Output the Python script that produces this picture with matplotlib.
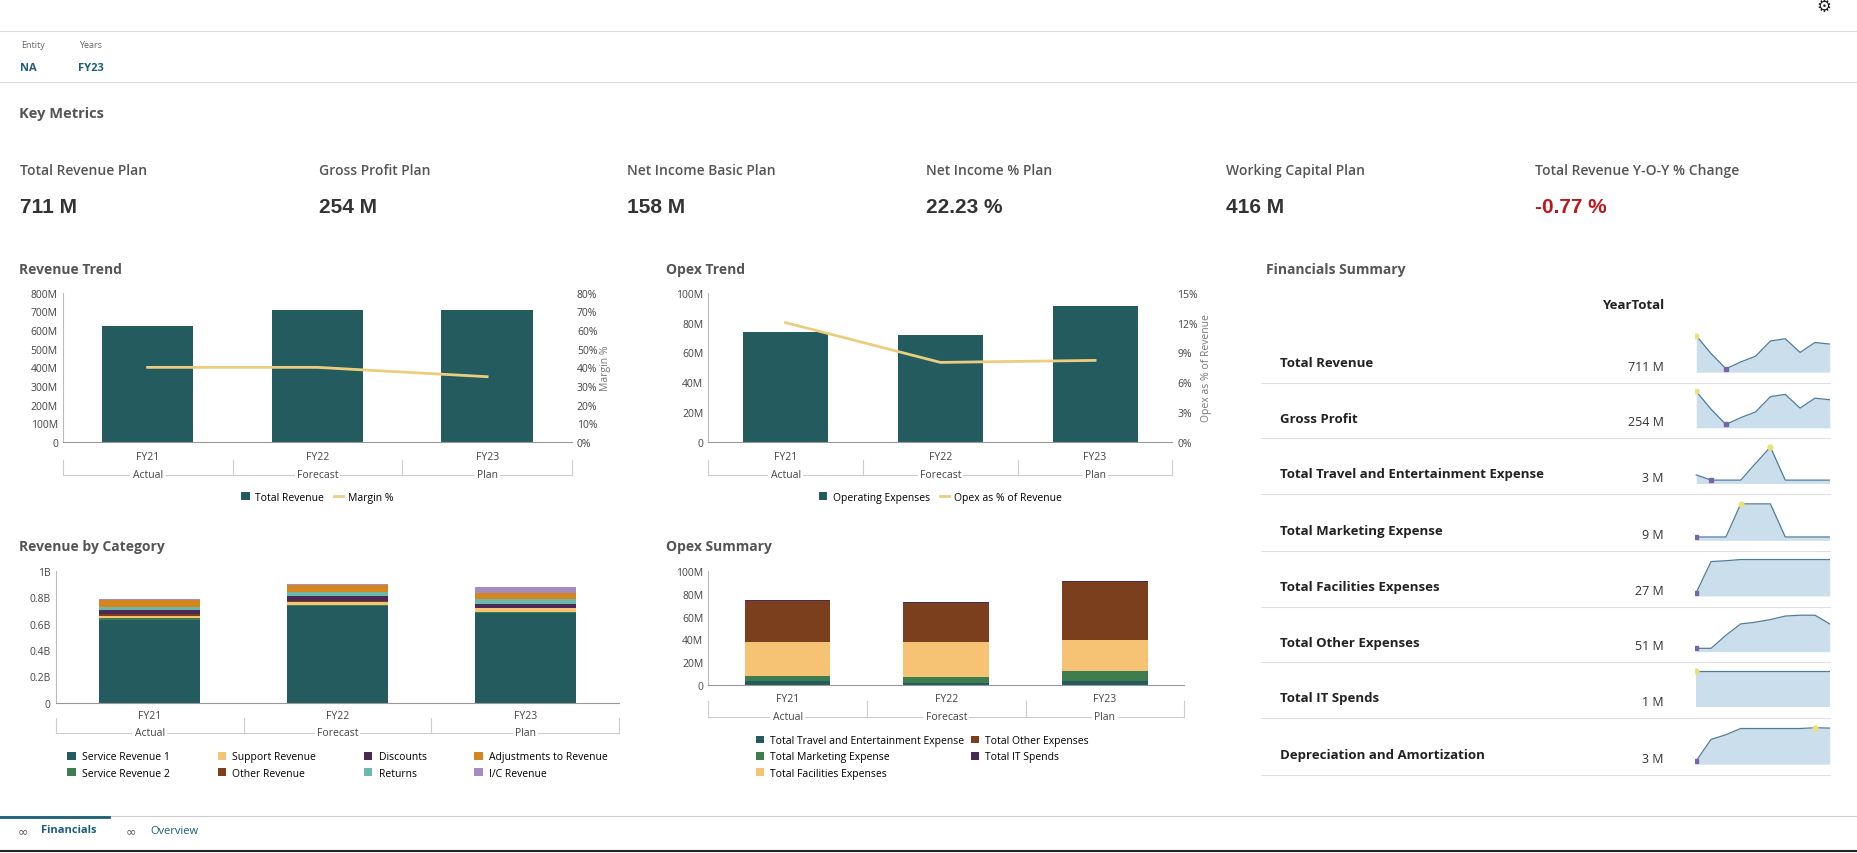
import matplotlib
matplotlib.use('Agg')
import matplotlib.pyplot as plt
import numpy as np
from matplotlib.ticker import FuncFormatter

plt.rcParams['font.family'] = ['Open Sans', 'DejaVu Sans']

W, H = 1568.0, 721.0

# ---- data ----
years = ['FY21', 'FY22', 'FY23']
scenarios = ['Actual', 'Forecast', 'Plan']

kpi_names = ['Total Revenue Plan', 'Gross Profit Plan', 'Net Income Basic Plan',
             'Net Income % Plan', 'Working Capital Plan', 'Total Revenue Y-O-Y % Change']
kpi_values = ['711 M', '254 M', '158 M', '22.23 %', '416 M', '-0.77 %']

total_revenue = [620, 710, 705]      # M
margin_pct = [40, 40, 35]            # %
opex = [74, 72, 91]                  # M
opex_pct = [12, 8, 8.2]              # %

rev_cats = ['Service Revenue 1', 'Service Revenue 2', 'Support Revenue', 'Other Revenue',
            'Discounts', 'Returns', 'Adjustments to Revenue', 'I/C Revenue']
rev_vals = {
    'Service Revenue 1': [0.63, 0.735, 0.68],
    'Service Revenue 2': [0.012, 0.008, 0.012],
    'Support Revenue': [0.02, 0.02, 0.03],
    'Other Revenue': [0.012, 0.012, 0.0],
    'Discounts': [0.028, 0.035, 0.03],
    'Returns': [0.025, 0.03, 0.035],
    'Adjustments to Revenue': [0.055, 0.055, 0.05],
    'I/C Revenue': [0.008, 0.008, 0.04],
}
rev_colors = ['#235b5f', '#3e7d4e', '#f6c374', '#7b3f1e', '#4a2a55', '#6db8ac', '#d4851d', '#a48bc0']
rev_legend_order = ['Service Revenue 1', 'Service Revenue 2', 'Support Revenue', 'Other Revenue',
                    'Discounts', 'Returns', 'Adjustments to Revenue', 'I/C Revenue']

opex_cats = ['Total Travel and Entertainment Expense', 'Total Marketing Expense',
             'Total Facilities Expenses', 'Total Other Expenses', 'Total IT Spends']
opex_vals = {
    'Total Travel and Entertainment Expense': [3, 2, 3],
    'Total Marketing Expense': [5, 5, 9],
    'Total Facilities Expenses': [30, 31, 27],
    'Total Other Expenses': [36, 34, 51],
    'Total IT Spends': [0.4, 0.4, 1.2],
}
opex_colors = ['#235b5f', '#3e7d4e', '#f6c374', '#7b3f1e', '#4a2a55']

fin_rows = ['Total Revenue', 'Gross Profit', 'Total Travel and Entertainment Expense',
            'Total Marketing Expense', 'Total Facilities Expenses', 'Total Other Expenses',
            'Total IT Spends', 'Depreciation and Amortization']
fin_totals = ['711 M', '254 M', '3 M', '9 M', '27 M', '51 M', '1 M', '3 M']
spark = [
    [92, 45, 5, 23, 38, 78, 84, 48, 74, 70],
    [92, 45, 5, 23, 38, 78, 84, 48, 74, 70],
    [27, 13, 13, 13, 58, 102, 13, 13, 13, 13],
    [0, 0, 0, 87, 87, 87, 0, 0, 0, 0],
    [0, 77, 79, 82, 82, 82, 82, 82, 82, 82],
    [10, 10, 25, 38, 40, 43, 47, 48, 48, 38],
    [1, 1, 1, 1, 1, 1, 1, 1, 1, 1],
    [5, 60, 72, 88, 88, 88, 88, 88, 90, 89],
]
spark_max_mark = [True, True, True, True, False, False, True, True]
spark_min_mark = [True, True, True, True, True, True, False, True]

TEAL = '#235b5f'
LINE = '#eccd7e'
GRAY = '#555555'
TICK = '#444444'

fig = plt.figure(figsize=(18.57, 8.54), dpi=100)


def box(l, t, r, b):
    return [l / W, 1 - b / H, (r - l) / W, (b - t) / H]


def txt(x, y, s, **kw):
    fig.text(x / W, 1 - y / H, s, va='center', **kw)


def hline(x0, x1, y, color='#dddddd', lw=0.8):
    fig.add_artist(plt.Line2D([x0 / W, x1 / W], [1 - y / H, 1 - y / H], color=color, lw=lw))


def style_ax(ax):
    for s in ['top', 'right']:
        ax.spines[s].set_visible(False)
    ax.spines['left'].set_color('#bbbbbb')
    ax.spines['bottom'].set_color('#999999')
    ax.tick_params(length=0, labelsize=7.5, colors=TICK)
    ax.set_xlim(-0.5, 2.5)


def group_axis(ax, y1=-0.1, y2=-0.22):
    ax.set_xticks([])
    tr = ax.transAxes
    for i, (yr, sc) in enumerate(zip(years, scenarios)):
        xc = (i + 0.5) / 3
        ax.text(xc, y1, yr, transform=tr, ha='center', va='center', fontsize=7.5, color=TICK)
        ax.text(xc, y2, sc, transform=tr, ha='center', va='center', fontsize=7.5, color=TICK,
                bbox=dict(facecolor='white', edgecolor='none', pad=1.5))
    for xb in [0, 1 / 3, 2 / 3, 1]:
        ax.plot([xb, xb], [y1 - 0.02, y2], transform=tr, color='#cccccc', lw=0.8, clip_on=False)
    ax.plot([0, 1], [y2, y2], transform=tr, color='#cccccc', lw=0.8, clip_on=False, zorder=0)


# ---- header ----
hline(0, 1568, 27)
hline(0, 1568, 70)
txt(18, 38, 'Entity', fontsize=6.5, color='#666666')
txt(67, 38, 'Years', fontsize=6.5, color='#666666')
txt(17, 58, 'NA', fontsize=8, color='#1e5e79', weight='bold')
txt(66, 58, 'FY23', fontsize=8, color='#1e5e79', weight='bold')
txt(1534, 6, '\u2699', fontsize=12, color='#222222', family='DejaVu Sans')
txt(16, 96, 'Key Metrics', fontsize=10.5, color=GRAY, weight='bold')

kx = [17, 269, 529, 782, 1035, 1296]
for x, n, v in zip(kx, kpi_names, kpi_values):
    txt(x, 144, n, fontsize=10, color='#555555', weight='semibold')
    txt(x, 175, v, fontsize=15, weight='bold', color='#c0171e' if v.startswith('-') else '#333333',
        family='Liberation Sans')

# ---- Revenue Trend ----
txt(16, 228, 'Revenue Trend', fontsize=10, color=GRAY, weight='bold')
ax = fig.add_axes(box(53, 248, 483, 374))
style_ax(ax)
x = np.arange(3)
ax.bar(x, total_revenue, width=0.54, color=TEAL, label='Total Revenue')
ax.set_ylim(0, 800)
ax.set_yticks(range(0, 801, 100))
ax.yaxis.set_major_formatter(FuncFormatter(lambda v, p: '0' if v == 0 else f'{int(v)}M'))
ax2 = ax.twinx()
ax2.plot(x, margin_pct, color=LINE, lw=2, label='Margin %')
ax2.set_ylim(0, 80)
ax2.set_yticks(range(0, 81, 10))
ax2.yaxis.set_major_formatter(FuncFormatter(lambda v, p: f'{int(v)}%'))
for s in ['top', 'right', 'left', 'bottom']:
    ax2.spines[s].set_visible(False)
ax2.tick_params(length=0, labelsize=7.5, colors=TICK)
ax2.set_ylabel('Margin %', fontsize=7.5, color='#777777', labelpad=2)
group_axis(ax)
h1, l1 = ax.get_legend_handles_labels()
h2, l2 = ax2.get_legend_handles_labels()
ax.legend(h1 + h2, l1 + l2, loc='upper center', bbox_to_anchor=(0.5, -0.27), ncol=2, frameon=False,
          fontsize=7.5, handlelength=0.8, handleheight=0.8, columnspacing=1.0, handletextpad=0.5)

# ---- Opex Trend ----
txt(562, 228, 'Opex Trend', fontsize=10, color=GRAY, weight='bold')
ax = fig.add_axes(box(598, 248, 990, 374))
style_ax(ax)
ax.bar(x, opex, width=0.55, color=TEAL, label='Operating Expenses')
ax.set_ylim(0, 100)
ax.set_yticks(range(0, 101, 20))
ax.yaxis.set_major_formatter(FuncFormatter(lambda v, p: '0' if v == 0 else f'{int(v)}M'))
ax2 = ax.twinx()
ax2.plot(x, opex_pct, color=LINE, lw=2, label='Opex as % of Revenue')
ax2.set_ylim(0, 15)
ax2.set_yticks(range(0, 16, 3))
ax2.yaxis.set_major_formatter(FuncFormatter(lambda v, p: f'{int(v)}%'))
for s in ['top', 'right', 'left', 'bottom']:
    ax2.spines[s].set_visible(False)
ax2.tick_params(length=0, labelsize=7.5, colors=TICK)
ax2.set_ylabel('Opex as % of Revenue', fontsize=7.5, color='#777777', labelpad=2)
group_axis(ax)
h1, l1 = ax.get_legend_handles_labels()
h2, l2 = ax2.get_legend_handles_labels()
ax.legend(h1 + h2, l1 + l2, loc='upper center', bbox_to_anchor=(0.5, -0.27), ncol=2, frameon=False,
          fontsize=7.5, handlelength=0.8, handleheight=0.8, columnspacing=1.0, handletextpad=0.5)

# ---- Revenue by Category ----
txt(16, 462, 'Revenue by Category', fontsize=10, color=GRAY, weight='bold')
ax = fig.add_axes(box(47, 483, 523, 594))
style_ax(ax)
bottom = np.zeros(3)
handles = {}
for c, col in zip(rev_cats, rev_colors):
    v = np.array(rev_vals[c])
    handles[c] = ax.bar(x, v, bottom=bottom, width=0.54, color=col, label=c)
    bottom += v
ax.set_ylim(0, 1.0)
ax.set_yticks([0, 0.2, 0.4, 0.6, 0.8, 1.0])
ax.yaxis.set_major_formatter(FuncFormatter(lambda v, p: '0' if v == 0 else ('1B' if v == 1 else f'{v:.1f}B')))
group_axis(ax, -0.1, -0.23)
ax.legend([handles[c] for c in rev_legend_order], rev_legend_order, loc='upper center',
          bbox_to_anchor=(0.5, -0.3), ncol=4, frameon=False, fontsize=7.5, handlelength=0.8,
          handleheight=0.8, columnspacing=4.6, handletextpad=0.6)

# ---- Opex Summary ----
txt(562, 462, 'Opex Summary', fontsize=10, color=GRAY, weight='bold')
ax = fig.add_axes(box(598, 483, 1000, 579))
style_ax(ax)
bottom = np.zeros(3)
handles = {}
for c, col in zip(opex_cats, opex_colors):
    v = np.array(opex_vals[c])
    handles[c] = ax.bar(x, v, bottom=bottom, width=0.54, color=col, label=c)
    bottom += v
ax.set_ylim(0, 100)
ax.set_yticks(range(0, 101, 20))
ax.yaxis.set_major_formatter(FuncFormatter(lambda v, p: '0' if v == 0 else f'{int(v)}M'))
group_axis(ax, -0.12, -0.28)
order = ['Total Travel and Entertainment Expense', 'Total Marketing Expense', 'Total Facilities Expenses',
         'Total Other Expenses', 'Total IT Spends']
ax.legend([handles[c] for c in order], order, loc='upper left', bbox_to_anchor=(0.08, -0.36), ncol=2,
          frameon=False, fontsize=7.5, handlelength=0.8, handleheight=0.8, columnspacing=0.6,
          handletextpad=0.6, labelspacing=0.5)

# ---- Financials Summary ----
txt(1069, 228, 'Financials Summary', fontsize=10, color=GRAY, weight='bold')
txt(1405, 258, 'YearTotal', fontsize=9.5, weight='bold', color='#222222', ha='right')
row_y = [307, 354, 401, 449, 496, 543, 590, 638]
for i, (name, tot, vals) in enumerate(zip(fin_rows, fin_totals, spark)):
    y = row_y[i]
    txt(1081, y, name, fontsize=9.5, weight='bold', color='#222222')
    txt(1405, y + 3, tot, fontsize=9, color='#333333', ha='right')
    hline(1065, 1545, y + 17, color='#e2e2e2')
    sa = fig.add_axes(box(1431, y - 25, 1545, y + 8))
    sa.axis('off')
    v = np.array(vals, dtype=float)
    xs = np.arange(len(v))
    lo = 0 if v.min() == v.max() else v.min()
    span = v.max() - lo if v.max() != lo else 1
    base = lo - span * 0.1 - 0.01
    sa.fill_between(xs, v, base, color='#c6dbe9', alpha=0.9, lw=0)
    sa.plot(xs, v, color='#4f7c99', lw=0.9)
    imax, imin = int(np.argmax(v)), int(np.argmin(v))
    if spark_min_mark[i]:
        sa.plot(imin, v[imin], 's', color='#7a64a8', ms=3.5)
    if spark_max_mark[i]:
        sa.plot(imax, v[imax], 'o', color='#ece07a', ms=3.5)
    sa.set_ylim(base, v.max() + span * 0.08)
    sa.set_xlim(-0.1, len(v) - 1)

# ---- bottom tabs ----
hline(0, 1568, 690, color='#cccccc')
fig.add_artist(plt.Line2D([0, 92 / W], [1 - 691 / H] * 2, color='#1e5e79', lw=2))
txt(15, 702, '\u221e', fontsize=9, color='#555555', family='DejaVu Sans')
txt(35, 701, 'Financials', fontsize=8, weight='bold', color='#1e5e79')
txt(106, 702, '\u221e', fontsize=9, color='#555555', family='DejaVu Sans')
txt(127, 702, 'Overview', fontsize=8, color='#1e5e79')
hline(0, 1568, 719, color='#222222', lw=1.5)

fig.savefig('out.png', dpi=100, facecolor='white')
